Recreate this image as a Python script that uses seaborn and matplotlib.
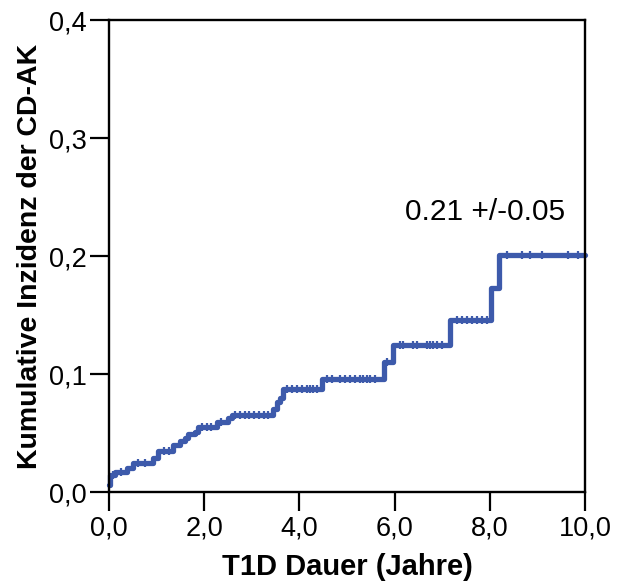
import numpy as np
import pandas as pd
import matplotlib
matplotlib.use("Agg")
import matplotlib.pyplot as plt
import seaborn as sns

# Step function: event times (years) and cumulative incidence after each event
event_times = [0.0, 0.02, 0.13, 0.38, 0.50, 0.92, 1.03, 1.35, 1.49, 1.60, 1.66,
               1.81, 1.87, 2.27, 2.50, 2.58, 3.45, 3.53, 3.60, 3.65, 4.47, 5.78,
               5.97, 7.16, 8.03, 8.20, 10.0]
cum_incidence = [0.006, 0.014, 0.017, 0.020, 0.025, 0.029, 0.035, 0.040, 0.043,
                 0.046, 0.049, 0.051, 0.055, 0.059, 0.063, 0.065, 0.070, 0.076,
                 0.080, 0.087, 0.096, 0.110, 0.125, 0.146, 0.173, 0.201, 0.201]

# Censoring times (tick marks on the curve)
censor_times = [0.08, 0.25, 0.60, 0.75, 1.15, 1.25, 1.95, 2.05, 2.15, 2.35,
                2.65, 2.75, 2.85, 2.95, 3.05, 3.15, 3.25, 3.35,
                3.74, 3.84, 3.95, 4.05, 4.16, 4.22, 4.29, 4.37,
                4.58, 4.68, 4.85, 4.96, 5.06, 5.17, 5.27, 5.34, 5.42, 5.48, 5.59,
                5.85, 6.11, 6.18, 6.39, 6.47, 6.68, 6.74, 6.81, 6.89, 7.00,
                7.31, 7.42, 7.52, 7.63, 7.73, 7.84, 7.94,
                8.36, 8.68, 8.84, 9.10, 9.64, 9.85]

x_ticks = [0, 2, 4, 6, 8, 10]
x_ticklabels = ["0,0", "2,0", "4,0", "6,0", "8,0", "10,0"]
y_ticks = [0.0, 0.1, 0.2, 0.3, 0.4]
y_ticklabels = ["0,0", "0,1", "0,2", "0,3", "0,4"]

x_label = "T1D Dauer (Jahre)"
y_label = "Kumulative Inzidenz der CD-AK"
annotation = "0.21 +/-0.05"

color = "#3d5aab"

sns.set_theme(style="ticks")
plt.rcParams["font.family"] = ["Liberation Sans", "DejaVu Sans"]
plt.rcParams["text.color"] = "black"
plt.rcParams["axes.labelcolor"] = "black"

fig = plt.figure(figsize=(6.19, 5.82), dpi=100)
ax = fig.add_axes([109 / 619, 1 - 492 / 582, (585 - 109) / 619, (492 - 20) / 582])

curve = pd.DataFrame({"t": event_times, "ci": cum_incidence})
sns.lineplot(data=curve, x="t", y="ci", drawstyle="steps-post", estimator=None,
             color=color, linewidth=3.8, ax=ax, clip_on=False)

# y value of censor marks = current level of the step curve
idx = np.searchsorted(np.array(event_times), np.array(censor_times), side="right") - 1
censor = pd.DataFrame({"t": censor_times, "ci": np.array(cum_incidence)[idx]})
sns.scatterplot(data=censor, x="t", y="ci", marker="|", s=38, linewidth=1.6,
                color=color, ax=ax, zorder=3)

ax.set_xlim(0, 10)
ax.set_ylim(0, 0.4)
ax.set_xticks(x_ticks)
ax.set_xticklabels(x_ticklabels)
ax.set_yticks(y_ticks)
ax.set_yticklabels(y_ticklabels)

for s in ax.spines.values():
    s.set_linewidth(1.7)
    s.set_color("black")
    s.set_visible(True)

ax.tick_params(axis="both", direction="out", length=14, width=1.6,
               labelsize=19.5, colors="black", labelcolor="black")
ax.tick_params(axis="x", pad=3)
ax.tick_params(axis="y", pad=2)

ax.set_xlabel(x_label, fontsize=21, fontweight="bold", labelpad=8, color="black")
ax.set_ylabel(y_label, fontsize=20.5, fontweight="bold", labelpad=4, color="black")

ax.text(7.9, 0.237, annotation, fontsize=21.5, ha="center", va="center", color="black")

fig.savefig("out.png", dpi=100)
